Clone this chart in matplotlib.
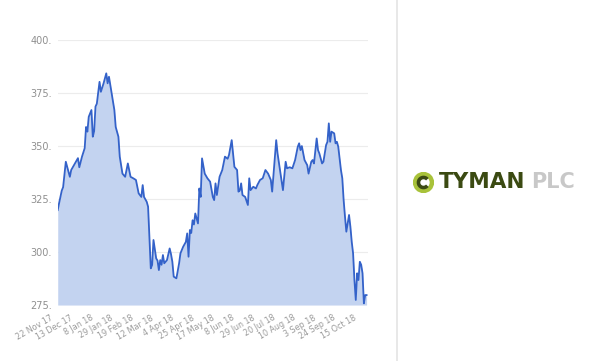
import matplotlib
matplotlib.use("Agg")
import matplotlib.pyplot as plt
import matplotlib.patches as mpatches
import matplotlib.transforms as mtransforms

# trading-day index (0 = 22 Nov 17) and share price (p)
days = [0, 1, 3, 4, 6, 9, 10, 13, 15, 16, 18, 20, 21, 22, 23, 25, 26, 27, 28, 29,
        31, 32, 34, 36, 37, 38, 40, 42, 43, 45, 46, 48, 50, 52, 54, 56, 58, 60, 62, 63,
        64, 66, 67, 69, 70, 71, 73, 74, 75, 76, 77, 78, 79, 81, 83, 84, 85, 86, 88, 90,
        91, 93, 95, 96, 97, 98, 99, 100, 101, 102, 104, 105, 106, 107, 109, 111, 113, 115, 116, 117,
        118, 120, 122, 124, 126, 127, 129, 131, 133, 134, 135, 136, 137, 139, 141, 142, 143, 145, 147, 148,
        150, 152, 154, 156, 158, 159, 162, 163, 165, 167, 169, 170, 172, 174, 176, 178, 179, 180, 181, 183,
        185, 186, 188, 189, 190, 192, 193, 194, 196, 197, 199, 200, 201, 202, 203, 205, 206, 207, 208, 210,
        211, 212, 213, 214, 215, 216, 217, 218, 219, 220, 221, 222, 223, 224, 225, 226, 227, 228, 229]
price = [319.8, 323.0, 329.0, 330.6, 342.6, 335.5, 338.7, 342.0, 344.3, 340.0, 345.0, 349.0, 359.0, 356.8, 363.8, 367.0, 354.4, 357.0, 368.6, 370.0,
         380.3, 375.6, 379.6, 384.3, 379.6, 382.7, 374.8, 367.0, 359.0, 354.4, 345.0, 337.0, 335.5, 341.8, 335.5, 334.8, 334.0, 327.7, 326.0, 331.6,
         326.0, 323.7, 321.4, 292.3, 293.9, 305.7, 297.0, 296.0, 291.5, 296.2, 294.0, 298.6, 294.7, 296.2, 301.7, 299.0, 295.4, 288.4, 287.6, 294.7,
         299.4, 302.5, 304.8, 308.8, 297.8, 310.4, 309.0, 315.0, 313.0, 318.2, 313.5, 330.0, 326.0, 344.2, 337.0, 334.8, 333.2, 326.0, 324.5, 332.4,
         326.9, 335.5, 338.7, 345.0, 344.0, 345.8, 352.8, 340.2, 338.7, 328.5, 329.0, 332.4, 326.9, 326.0, 322.2, 334.8, 329.2, 330.8, 330.0, 331.6,
         334.0, 334.8, 338.7, 337.0, 334.0, 328.5, 352.8, 346.5, 337.9, 329.2, 342.6, 339.5, 340.0, 339.5, 343.4, 349.7, 351.3, 348.1, 350.0, 343.4,
         341.0, 337.0, 342.6, 343.4, 341.8, 353.6, 348.1, 346.5, 341.8, 342.6, 350.5, 352.0, 360.7, 352.0, 356.8, 356.0, 351.3, 352.0, 349.7, 338.7,
         334.8, 324.5, 316.7, 309.6, 313.5, 317.5, 312.0, 304.8, 299.4, 286.8, 277.4, 290.0, 286.8, 295.4, 294.0, 290.0, 275.8, 279.7, 279.7]

tick_days = [0, 15, 30, 45, 60, 75, 90, 105, 120, 135, 150, 165, 180, 195, 210, 225]
tick_labels = ["22 Nov 17", "13 Dec 17", "8 Jan 18", "29 Jan 18", "19 Feb 18", "12 Mar 18",
               "4 Apr 18", "25 Apr 18", "17 May 18", "8 Jun 18", "29 Jun 18", "20 Jul 18",
               "10 Aug 18", "3 Sep 18", "24 Sep 18", "15 Oct 18"]
y_ticks = [275, 300, 325, 350, 375, 400]

fig = plt.figure(figsize=(6, 3.61), dpi=100)
ax = fig.add_axes([0.0962, 0.155, 0.517, 0.734])

ax.fill_between(days, price, 275, color="#c3d3f0", lw=0)
ax.plot(days, price, color="#3462c9", lw=1.3)

ax.set_xlim(0, 230)
ax.set_ylim(275, 400)
ax.set_yticks(y_ticks)
ax.set_yticklabels([str(v) + "." for v in y_ticks])
ax.set_xticks(tick_days)
ax.set_xticklabels(tick_labels, rotation=30, ha="right", rotation_mode="anchor")
ax.tick_params(axis="y", length=0, colors="#8f8f8f", labelsize=7, pad=4)
ax.tick_params(axis="x", length=0, colors="#9a9a9a", labelsize=5.8, pad=6)
shift = mtransforms.ScaledTranslation(-8 / 100, 0, fig.dpi_scale_trans)
for lab in ax.get_xticklabels():
    lab.set_transform(lab.get_transform() + shift)
ax.grid(axis="y", color="#ececec", lw=0.8)
ax.set_axisbelow(True)
for s in ax.spines.values():
    s.set_visible(False)

# divider line
fig.add_artist(plt.Line2D([397 / 600, 397 / 600], [0, 1], color="#e4e4e4", lw=1.2))

# logo
cy = 1 - 182.5 / 361
lax = fig.add_axes([413 / 600, 1 - 193 / 361, 21 / 600, 21 / 361])
lax.set_xlim(-1.1, 1.1)
lax.set_ylim(-1.1, 1.1)
lax.axis("off")
lax.add_patch(mpatches.Circle((0, 0), 0.88, facecolor="white", edgecolor="#a8c23a", lw=3.2))
lax.add_patch(mpatches.Arc((0, 0), 1.05, 1.05, theta1=40, theta2=320, color="#3b4a12", lw=2.6))
fig.text(439 / 600, cy, "TYMAN", ha="left", va="center", fontsize=15.5, fontweight="bold",
         color="#3b4a12", family="DejaVu Sans")
fig.text(531 / 600, cy, "PLC", ha="left", va="center", fontsize=15, fontweight="bold",
         color="#c8c8c8", family="DejaVu Sans")

fig.savefig("out.png", dpi=100)
